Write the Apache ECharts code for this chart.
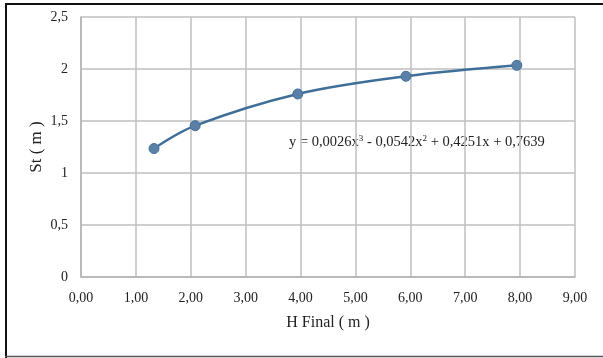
<!DOCTYPE html>
<html>
<head>
<meta charset="utf-8">
<script src="https://cdn.jsdelivr.net/npm/echarts@6/dist/echarts.min.js"></script>
<style>
html,body{margin:0;padding:0;background:#fff;}
#c{width:603px;height:358px;}
</style>
</head>
<body>
<div id="c"></div>
<script>
var hFinal = [1.33, 2.08, 3.95, 5.92, 7.94];
var stValues = [1.235, 1.455, 1.76, 1.93, 2.035];
var equationText = 'y = 0,0026x{s|3} - 0,0542x{s|2} + 0,4251x + 0,7639';
var xName = 'H Final ( m )';
var yName = 'St ( m )';

var chart = echarts.init(document.getElementById('c'), null, {renderer: 'canvas'});
var font = 'Liberation Serif';
var pts = hFinal.map(function (x, i) { return [x, stValues[i]]; });

chart.setOption({
  animation: false,
  backgroundColor: '#fff',
  grid: {left: 81, right: 28, top: 17, bottom: 81, containLabel: false},
  xAxis: {
    type: 'value', min: 0, max: 9, interval: 1,
    name: xName, nameLocation: 'middle', nameGap: 38, nameMoveOverlap: false,
    nameTextStyle: {fontFamily: font, fontSize: 16, color: '#222'},
    axisLine: {show: true, lineStyle: {color: '#b3b3b3', width: 1.5}},
    axisTick: {show: false},
    axisLabel: {fontFamily: font, fontSize: 14, color: '#222', margin: 14,
      formatter: function (v) { return v.toFixed(2).replace('.', ','); }},
    splitLine: {show: true, lineStyle: {color: '#bfbfbf', width: 1.5}}
  },
  yAxis: {
    type: 'value', min: 0, max: 2.5, interval: 0.5,
    name: yName, nameLocation: 'middle', nameGap: 36, nameRotate: 90, nameMoveOverlap: false,
    nameTextStyle: {fontFamily: font, fontSize: 17, color: '#222'},
    axisLine: {show: true, lineStyle: {color: '#b3b3b3', width: 1.5}},
    axisTick: {show: false},
    axisLabel: {fontFamily: font, fontSize: 14, color: '#222', margin: 13,
      formatter: function (v) { return String(v).replace('.', ','); }},
    splitLine: {show: true, lineStyle: {color: '#bfbfbf', width: 1.5}}
  },
  series: [{
    type: 'line',
    data: pts,
    smooth: 0.35,
    symbol: 'circle',
    symbolSize: 10,
    lineStyle: {color: '#3f6f98', width: 2.5},
    itemStyle: {color: '#5a80a8', borderColor: '#41709a', borderWidth: 1}
  }],
  graphic: [
    {type: 'line', shape: {x1: 5, y1: 4, x2: 603, y2: 4}, style: {stroke: '#111', lineWidth: 2}},
    {type: 'line', shape: {x1: 6, y1: 3, x2: 6, y2: 358}, style: {stroke: '#111', lineWidth: 2}},
    {type: 'line', shape: {x1: 5, y1: 356.5, x2: 603, y2: 356.5}, style: {stroke: '#555', lineWidth: 1.5}},
    {type: 'text', left: 289, top: 134,
      style: {text: equationText, fontFamily: font, fontSize: 14.5, fill: '#222',
        rich: {s: {fontFamily: font, fontSize: 9, fill: '#222', verticalAlign: 'top', padding: [0, 0, 8, 0]}}}}
  ]
});
</script>
</body>
</html>
